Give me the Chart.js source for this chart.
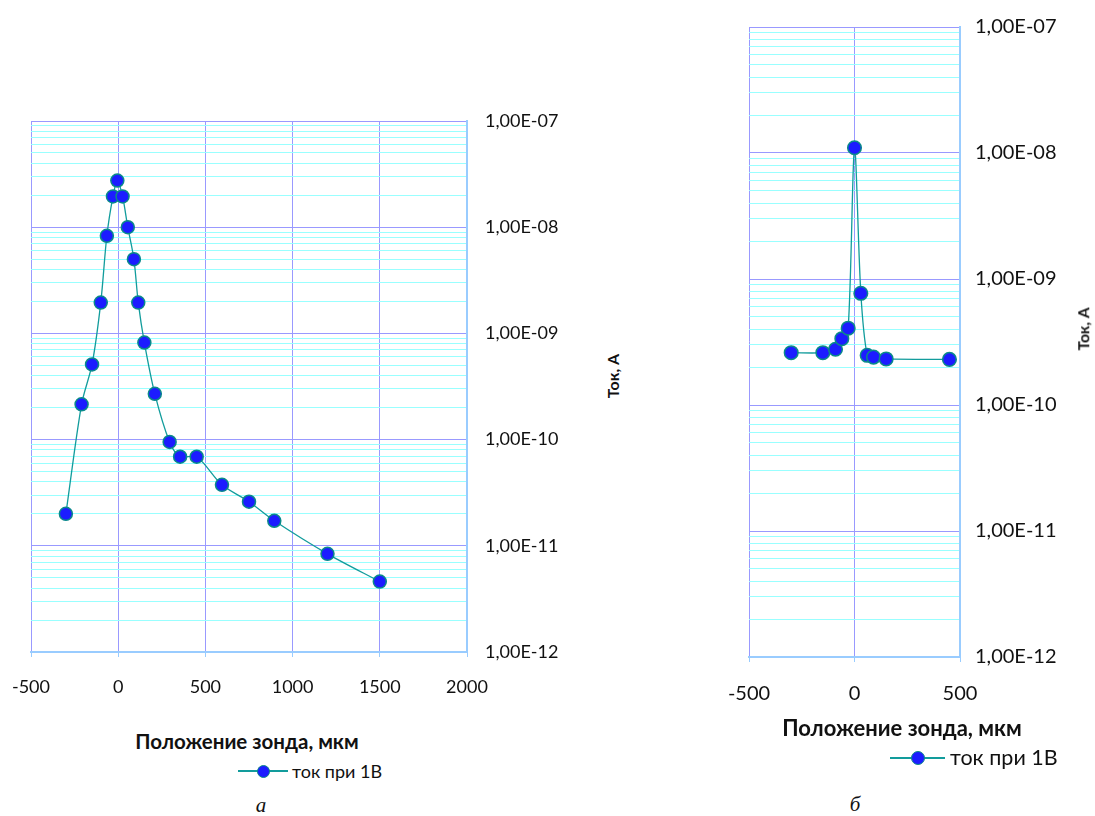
<!DOCTYPE html>
<html>
<head>
<meta charset="utf-8">
<script src="https://cdn.jsdelivr.net/npm/chart.js@4.4.1/dist/chart.umd.min.js"></script>
<style>
  body { margin: 0; background: #fff; width: 1095px; height: 816px; position: relative; overflow: hidden;
         font-family: Lato, 'Open Sans', sans-serif; color: #111; }
  canvas { position: absolute; top: 0; }
  .t { position: absolute; white-space: nowrap; transform: translate(-50%, -50%); line-height: 1; }
  .b { font-weight: bold; }
  .rot { transform: translate(-50%, -50%) rotate(-90deg); }
  .cap { font-family: 'Liberation Serif', 'DejaVu Serif', serif; font-style: italic; font-size: 21px; }
  .legline { position: absolute; height: 1.5px; background: #129c9c; }
  .legdot { position: absolute; border-radius: 50%; background: #1c1cff; border: 1.5px solid #0a8a8a; box-sizing: border-box; }
</style>
</head>
<body>
<canvas id="chartA" width="620" height="720" style="left:-20px"></canvas>
<canvas id="chartB" width="395" height="720" style="left:700px"></canvas>

<!-- chart а: text -->
<div class="t b" style="left:247px;top:741px;font-size:20.5px">Положение зонда, мкм</div>
<div class="t b rot" style="left:613px;top:376px;font-size:16px">Ток, А</div>
<div class="legline" style="left:238px;top:770px;width:50px"></div>
<div class="legdot" style="left:257px;top:765px;width:13px;height:13px"></div>
<div class="t" style="left:292px;top:771px;font-size:18px;transform:translateY(-50%)">ток при 1В</div>
<div class="t cap" style="left:261px;top:805px">а</div>

<!-- chart б: text -->
<div class="t b" style="left:902px;top:728px;font-size:22px">Положение зонда, мкм</div>
<div class="t b rot" style="left:1084px;top:329px;font-size:15.5px">Ток, А</div>
<div class="legline" style="left:890px;top:757px;width:55px"></div>
<div class="legdot" style="left:911px;top:751px;width:14px;height:14px"></div>
<div class="t" style="left:950px;top:758px;font-size:21.5px;transform:translateY(-50%)">ток при 1В</div>
<div class="t cap" style="left:855px;top:804px">б</div>

<script>
// ── Data ──────────────────────────────────────────────────────
// Chart а: probe position (µm) and current at 1 V (A)
const posA = [-300, -210, -150, -100, -65, -30, -5, 25, 55, 90, 115, 150,
              210, 295, 355, 450, 595, 750, 895, 1200, 1500];
const curA = [2.0e-11, 2.15e-10, 5.1e-10, 1.95e-9, 8.3e-9, 1.95e-8, 2.75e-8,
              1.95e-8, 1.0e-8, 5.0e-9, 1.95e-9, 8.2e-10, 2.7e-10, 9.5e-11,
              6.9e-11, 6.9e-11, 3.75e-11, 2.6e-11, 1.72e-11, 8.4e-12, 4.6e-12];

// Chart б
const posB = [-300, -150, -90, -60, -30, 0, 30, 60, 90, 150, 450];
const curB = [2.6e-10, 2.6e-10, 2.77e-10, 3.36e-10, 4.07e-10, 1.1e-8,
              7.7e-10, 2.48e-10, 2.4e-10, 2.32e-10, 2.3e-10];

// X axis ticks
const xTicksA = [-500, 0, 500, 1000, 1500, 2000];
const xTicksB = [-500, 0, 500];

// Y axis decades and their labels
const yDecades    = [1e-12, 1e-11, 1e-10, 1e-9, 1e-8, 1e-7];
const yTickLabels = ['1,00E-12', '1,00E-11', '1,00E-10', '1,00E-09', '1,00E-08', '1,00E-07'];

const seriesLabel = 'ток при 1В';

// ── Colours ───────────────────────────────────────────────────
const MAJOR_GRID = '#9999ff';
const MINOR_GRID = '#99ffff';
const AXIS_LINE  = '#99ccff';
const LINE_COL   = '#129c9c';
const DOT_FILL   = '#1c1cff';
const DOT_EDGE   = '#0a8a8a';

// Gridline values: 1..9 × each decade, up to the top decade
const yGrid = [];
yDecades.slice(0, -1).forEach(d => {
    for (let m = 1; m <= 9; m++) yGrid.push(m * d);
});
yGrid.push(yDecades[yDecades.length - 1]);

const isDecade = v => {
    const l = Math.log10(v);
    return Math.abs(l - Math.round(l)) < 1e-6;
};

// ── Build one chart ───────────────────────────────────────────
function makeChart(id, xs, ys, xTicks, cfg) {
    new Chart(document.getElementById(id), {
        type: 'line',
        data: {
            datasets: [{
                label: seriesLabel,
                data: xs.map((x, i) => ({ x: x, y: ys[i] })),
                borderColor: LINE_COL,
                borderWidth: 1.3,
                tension: 0.3,
                pointRadius: cfg.dot,
                pointBackgroundColor: DOT_FILL,
                pointBorderColor: DOT_EDGE,
                pointBorderWidth: 1.5
            }]
        },
        options: {
            responsive: false,
            animation: false,
            devicePixelRatio: 1,
            layout: { padding: { left: cfg.left, top: cfg.top, right: 0, bottom: 0 } },
            plugins: { legend: { display: false }, tooltip: { enabled: false } },
            scales: {
                x: {
                    type: 'linear',
                    min: xTicks[0], max: xTicks[xTicks.length - 1],
                    afterFit: s => { s.height = cfg.xAxisH; },
                    afterBuildTicks: s => { s.ticks = xTicks.map(v => ({ value: v })); },
                    ticks: {
                        color: '#111',
                        padding: cfg.xPad,
                        maxRotation: 0,
                        autoSkip: false,
                        font: { family: 'Lato, "Open Sans", sans-serif', size: cfg.font },
                        callback: v => String(v)
                    },
                    grid: { color: MAJOR_GRID, lineWidth: 1, tickLength: 5, tickColor: AXIS_LINE },
                    border: { color: AXIS_LINE, width: 2 }
                },
                y: {
                    type: 'logarithmic',
                    position: 'right',
                    min: 1e-12, max: 1e-7,
                    afterFit: s => { s.width = cfg.yAxisW; },
                    afterBuildTicks: s => { s.ticks = yGrid.map(v => ({ value: v })); },
                    ticks: {
                        autoSkip: false,
                        color: '#111',
                        padding: cfg.yPad,
                        font: { family: 'Lato, "Open Sans", sans-serif', size: cfg.font },
                        callback: v => {
                            const i = yDecades.findIndex(d => Math.abs(Math.log10(d) - Math.log10(v)) < 1e-6);
                            return i >= 0 ? yTickLabels[i] : '';
                        }
                    },
                    grid: {
                        drawTicks: false,
                        lineWidth: 1,
                        color: c => (c.tick && isDecade(c.tick.value)) ? MAJOR_GRID : MINOR_GRID
                    },
                    border: { color: AXIS_LINE, width: 2 }
                }
            }
        }
    });
}

// Chart а: plot area 31..467 × 121..652 (canvas starts at -20)
makeChart('chartA', posA, curA, xTicksA, {
    left: 51, top: 121, xAxisH: 68, yAxisW: 133,
    xPad: 19, yPad: 18, font: 18, dot: 6.5
});

// Chart б: plot area 749..960 × 23..657 (canvas starts at 700)
makeChart('chartB', posB, curB, xTicksB, {
    left: 49, top: 23, xAxisH: 63, yAxisW: 135,
    xPad: 20, yPad: 15, font: 20, dot: 6.8
});
</script>
</body>
</html>
